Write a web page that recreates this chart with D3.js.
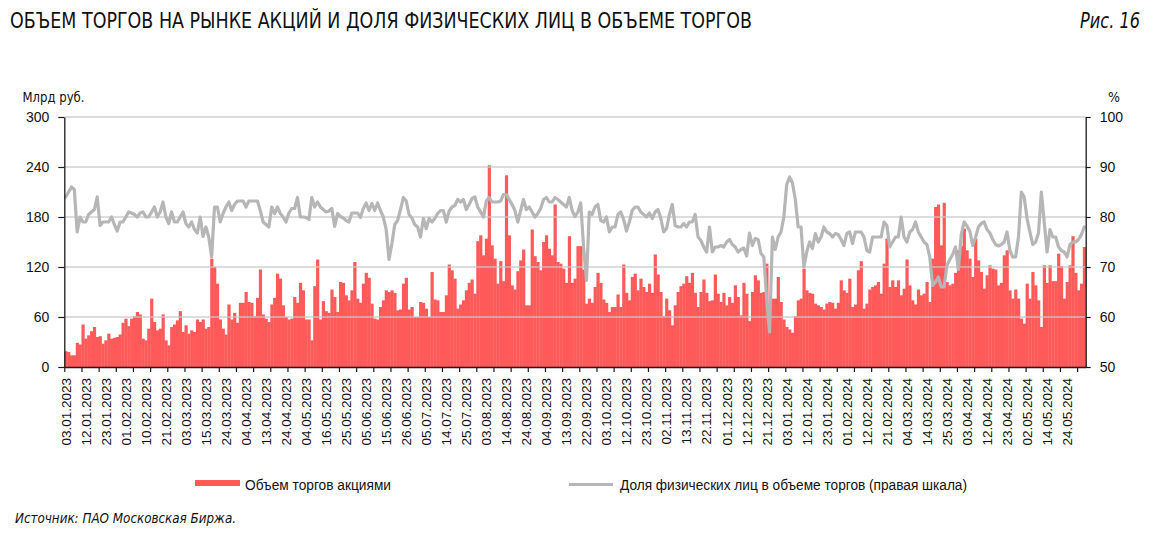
<!DOCTYPE html>
<html>
<head>
<meta charset="utf-8">
<script src="https://cdn.jsdelivr.net/npm/d3@7"></script>
<style>
  html, body { margin: 0; padding: 0; background: #fff; }
  svg { display: block; }
</style>
</head>
<body>
<svg id="chart" width="1157" height="538"></svg>
<script>
// ---------- DATA ----------
const titleText = "ОБЪЕМ ТОРГОВ НА РЫНКЕ АКЦИЙ И ДОЛЯ ФИЗИЧЕСКИХ ЛИЦ В ОБЪЕМЕ ТОРГОВ";
const figText = "Рис. 16";
const leftUnit = "Млрд руб.";
const rightUnit = "%";
const sourceText = "Источник: ПАО Московская Биржа.";
const seriesNames = ["Объем торгов акциями", "Доля физических лиц в объеме торгов (правая шкала)"];

// Daily trading volume, bn RUB (one value per trading day, 03.01.2023 onward)
const volume = [
  19,18,14,14,29,27,51,34,38,43, 48,36,37,28,32,40,34,35,36,39,
  53,58,49,58,61,66,63,34,32,46, 82,54,44,46,63,32,26,48,51,56,
  67,42,50,40,44,42,57,54,57,46, 48,130,120,100,57,46,39,75,57,65,
  53,77,77,90,78,77,61,83,117,63,
  58,54,75,83,112,106,74,60,57,58, 84,77,101,92,57,57,32,97,129,57,
  79,67,65,93,84,66,102,101,86,80, 92,126,82,77,100,113,107,76,58,57,
  72,80,92,90,92,89,68,69,100,107, 69,72,60,60,78,77,70,60,114,81,
  80,66,66,86,123,116,106,70,75,80,
  92,101,105,88,151,158,134,154,242,146, 130,100,127,103,230,158,98,93,115,128,
  141,74,74,165,133,126,116,150,158,142, 134,195,126,124,118,101,157,101,106,145,
  145,117,76,82,77,96,113,101,81,77, 66,72,72,87,72,123,89,80,108,112,
  92,106,96,90,100,89,135,111,90,61, 82,68,50,74,
  90,97,100,109,101,113,89,72,90,105, 89,79,80,111,88,78,89,74,84,77,
  98,84,62,101,88,55,90,110,104,89, 90,
  124,
  73,82,82,108,78,57,48,45,41,61,80,82,
  118,
  92,89,88,76,74,72,69,76,78,77, 70,77,104,92,89,106,72,75,116,
  127,
  70,76,93,96,
  98,102,88,124,154,
  96,104,96,104,86,94,129,98,80,75, 93,86,88,102,78,130,192,195,146,197, 102,98,100,113,
  140,145,166,140,130,108,154,
  128,114,94,110,122,118,117,98,101,134, 140,92,82,93,82,58,52,100,82,114,
  98,80,48,122,101,122,103,103,136,121, 82,102,122,157,113,92,100,144
];

// Share of individuals in trading volume, % (right axis)
const retailShare = [
  84,85,86,85.5,77,80,79,79,80.5,81, 81.5,84,78.3,79,79,79,80,78.5,77.2,79,
  79,80,81,80.8,80.5,80,80.8,81,80,80, 81,82,80,81,83,80,78.7,81,79,79,
  80,81,78.7,78,79,77.5,76.8,80,76.1,78, 76,72,82,82,79,80.7,82,83,81.3,82.5,
  83.2,83.2,83.2,82,83.2,83.2,83.2,83.2,81.3,79,
  78.5,78,82,80.7,82,80.7,80,79,80.8,81.7, 81.7,83.9,80,80,79.9,79.5,83.9,82,83,82,
  81.5,81,81.2,81.7,78.1,80.7,80.1,79.8,79.3,79, 80.8,80.8,80.8,79.9,81.7,82.8,81.3,82.7,81.3,82.8,
  81.3,80,77.5,71.5,74.7,78.5,79.3,81.5,83.9,83.2, 80.5,79.8,78.5,78,76,79.7,77.7,79.7,79,79.7,
  80.7,81.3,81.3,79,81.2,82,82.3,83.5,83,83.5,
  81.5,82.5,83.7,84,82,81,80,83.2,83.9,83, 83,83,83.2,84.5,84.5,83.5,82.5,81.3,79,81.3,
  83.5,81.5,82,81,80,80.7,81.7,83.5,83.9,83, 83,83.9,83.5,83,82.5,82,83.9,81.3,80.1,81,
  82.8,74,67.3,81,80.5,82,82.5,79.3,79,80, 77,78,78,80.5,81,79.5,77.2,79,81.3,82,
  82,81,80.5,80,80.8,79.7,81,81.5,79.7,77, 77.7,80.5,82.5,
  78.3,78,78,78.7,78,79,79,80.5,76,75.3, 74,73,78,73,74,74,74.3,74,75,75.5,
  74.5,74,73,73.5,73.8,72.2,76.8,74.3,75.7,75.5, 72.7,72,63.5,57,76,73.5,76,77,80,86.5,
  88,86.8,83.5,78,78,70,73,75,73.7,76.7, 75,76,78,77,76.7,76,76.7,76.5,75.5,74.3,
  76.7,77,74.7,77,77,77,76,73.3,73,76,
  76,76,76,79,78.3,74,75,76,76,80, 76,75,77,77.5,79,77,76,75,74.5,72,
  66.3,67,68,66,66,70.3,71.5,72.5,74,69.5, 76.5,79,78.2,77.2,74.3,75.9,78,78.7,79,77.5,
  76.8,75.5,74.5,74.2,74.5,75,77,73.3,72,72, 76,85,84,79.7,77,74.5,75,76.8,85,79,
  73,77.5,76,76,74,73.3,73,72,74.5,75, 75,75.5,76.5,78
];

// Category-axis labels (every 7th trading day)
const tickLabels = [
  "03.01.2023","12.01.2023","23.01.2023","01.02.2023","10.02.2023","21.02.2023","03.03.2023",
  "15.03.2023","24.03.2023","04.04.2023","13.04.2023","24.04.2023","04.05.2023","16.05.2023",
  "25.05.2023","05.06.2023","15.06.2023","26.06.2023","05.07.2023","14.07.2023","25.07.2023",
  "03.08.2023","14.08.2023","24.08.2023","04.09.2023","13.09.2023","22.09.2023","03.10.2023",
  "12.10.2023","23.10.2023","02.11.2023","13.11.2023","22.11.2023","01.12.2023","12.12.2023",
  "21.12.2023","03.01.2024","12.01.2024","23.01.2024","01.02.2024","12.02.2024","21.02.2024",
  "04.03.2024","14.03.2024","25.03.2024","03.04.2024","12.04.2024","23.04.2024","02.05.2024",
  "14.05.2024","24.05.2024"
];
const labelStep = 7;   // one label every 7 trading days
const tickStep = 6;    // tick marks every 6 trading days
const leftTicks = [0, 60, 120, 180, 240, 300];
const rightTicks = [50, 60, 70, 80, 90, 100];

// ---------- LAYOUT ----------
const plot = { left: 64.3, right: 1085.7, top: 117, bottom: 367 };
const colors = { bar: "#ff5a5a", line: "#b6b6b6", grid: "#c8c8c8", axis: "#1a1a1a", text: "#111" };
const narrow = "'Liberation Sans Narrow','DejaVu Sans Condensed','Roboto','Liberation Sans',sans-serif";
const sans = "'Liberation Sans','Arial',sans-serif";

const svg = d3.select("#chart");
const N = volume.length;
const cats = d3.range(N);

const x = d3.scaleBand().domain(cats).range([plot.left, plot.right]).padding(0);
const xLin = d3.scaleLinear().domain([0, N]).range([plot.left, plot.right]);
const yL = d3.scaleLinear().domain([0, 300]).range([plot.bottom, plot.top]);
const yR = d3.scaleLinear().domain([50, 100]).range([plot.bottom, plot.top]);

// Title
svg.append("text").attr("x", 10).attr("y", 28)
  .attr("font-family", narrow).attr("font-size", 21.5).attr("fill", colors.text)
  .attr("textLength", 742).attr("lengthAdjust", "spacingAndGlyphs")
  .text(titleText);
svg.append("text").attr("x", 1080).attr("y", 28)
  .attr("font-family", narrow).attr("font-size", 21.5).attr("font-style", "italic").attr("fill", colors.text)
  .attr("textLength", 60).attr("lengthAdjust", "spacingAndGlyphs")
  .text(figText);

// Units
svg.append("text").attr("x", 22.5).attr("y", 101.5)
  .attr("font-family", narrow).attr("font-size", 14).attr("fill", colors.text)
  .attr("textLength", 62).attr("lengthAdjust", "spacingAndGlyphs")
  .text(leftUnit);
svg.append("text").attr("x", 1114).attr("y", 101.5).attr("text-anchor", "middle")
  .attr("font-family", narrow).attr("font-size", 14).attr("fill", colors.text)
  .text(rightUnit);

// Bars
svg.append("g").selectAll("rect").data(volume).join("rect")
  .attr("x", (d, i) => x(i))
  .attr("width", x.bandwidth() + 0.35)
  .attr("y", d => yL(d))
  .attr("height", d => yL(0) - yL(d))
  .attr("fill", colors.bar);

// Gridlines (visible across the bars, as in the reference)
svg.append("g").selectAll("line").data(leftTicks.filter(v => v > 0)).join("line")
  .attr("x1", plot.left).attr("x2", plot.right)
  .attr("y1", d => yL(d)).attr("y2", d => yL(d))
  .attr("stroke", colors.grid).attr("stroke-width", 1.5).attr("opacity", 0.85);

// Line (right scale)
const line = d3.line()
  .x((d, i) => x(i) + x.bandwidth() / 2)
  .y(d => yR(d))
  .curve(d3.curveLinear);
svg.append("path").datum(retailShare)
  .attr("d", line)
  .attr("fill", "none")
  .attr("stroke", colors.line)
  .attr("stroke-width", 3.2)
  .attr("stroke-linejoin", "round")
  .attr("stroke-linecap", "round");

// Left axis
const gL = svg.append("g").attr("transform", `translate(${plot.left},0)`)
  .call(d3.axisLeft(yL).tickValues(leftTicks).tickSize(6).tickPadding(9).tickSizeOuter(0));
gL.select(".domain").attr("stroke", colors.axis).attr("stroke-width", 1.3);
gL.selectAll(".tick line").attr("stroke", colors.axis).attr("stroke-width", 1.2);
gL.selectAll("text").attr("font-family", sans).attr("font-size", 14).attr("fill", colors.text);

// Right axis
const gR = svg.append("g").attr("transform", `translate(${plot.right},0)`)
  .call(d3.axisRight(yR).tickValues(rightTicks).tickSize(5).tickPadding(9).tickSizeOuter(0));
gR.select(".domain").attr("stroke", colors.axis).attr("stroke-width", 1.3);
gR.selectAll(".tick line").attr("stroke", colors.axis).attr("stroke-width", 1.2);
gR.selectAll("text").attr("font-family", sans).attr("font-size", 14).attr("fill", colors.text);

// Bottom axis: tick marks every 6 days
const gB = svg.append("g").attr("transform", `translate(0,${plot.bottom})`)
  .call(d3.axisBottom(xLin).tickValues(d3.range(0, N + 1, tickStep)).tickSize(5).tickFormat("").tickSizeOuter(0));
gB.select(".domain").attr("stroke", colors.axis).attr("stroke-width", 1.3);
gB.selectAll(".tick line").attr("stroke", colors.axis).attr("stroke-width", 1.2);

// Bottom labels: every 7 days, rotated
svg.append("g").selectAll("text").data(tickLabels).join("text")
  .attr("transform", (d, j) => `translate(${x(j * labelStep) + x.bandwidth() / 2},378) rotate(-90)`)
  .attr("text-anchor", "end")
  .attr("dy", "0.36em")
  .attr("font-family", sans).attr("font-size", 13.5).attr("fill", colors.text)
  .text(d => d);

// Legend
svg.append("rect").attr("x", 195).attr("y", 480).attr("width", 45).attr("height", 6).attr("fill", colors.bar);
svg.append("text").attr("x", 245).attr("y", 490)
  .attr("font-family", sans).attr("font-size", 14).attr("fill", colors.text)
  .attr("textLength", 146).attr("lengthAdjust", "spacingAndGlyphs")
  .text(seriesNames[0]);
svg.append("line").attr("x1", 569).attr("x2", 613).attr("y1", 484.5).attr("y2", 484.5)
  .attr("stroke", colors.line).attr("stroke-width", 3.2);
svg.append("text").attr("x", 620).attr("y", 490)
  .attr("font-family", sans).attr("font-size", 14).attr("fill", colors.text)
  .attr("textLength", 347).attr("lengthAdjust", "spacingAndGlyphs")
  .text(seriesNames[1]);

// Source
svg.append("text").attr("x", 15).attr("y", 523)
  .attr("font-family", narrow).attr("font-size", 14.5).attr("font-style", "italic").attr("fill", colors.text)
  .attr("textLength", 221).attr("lengthAdjust", "spacingAndGlyphs")
  .text(sourceText);
</script>
</body>
</html>
